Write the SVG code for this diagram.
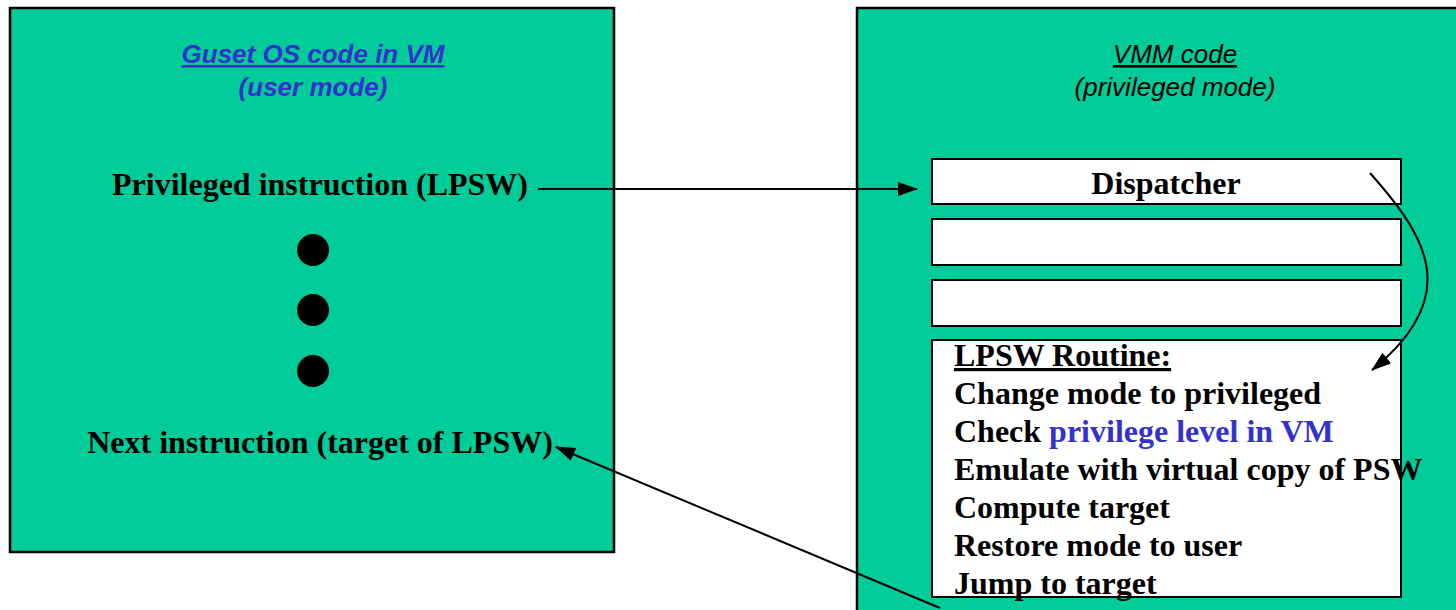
<svg xmlns="http://www.w3.org/2000/svg" width="1456" height="610" viewBox="0 0 1456 610">
  <style>
    .panel { fill: #00CC99; stroke: #000; stroke-width: 2.5; }
    .slot { fill: #fff; stroke: #000; stroke-width: 2; }
    .hdr { font-family: "Liberation Sans", Arial, sans-serif; font-style: italic; font-size: 26px; text-anchor: middle; }
    .body { font-family: "Liberation Serif", "Times New Roman", serif; font-weight: bold; font-size: 32px; fill: #000; }
    .blue { fill: #3333CC; }
    .wire { fill: none; stroke: #000; stroke-width: 2; }
  </style>
  <defs>
    <marker id="arrowL" markerWidth="20" markerHeight="14" refX="19" refY="7" orient="auto" markerUnits="userSpaceOnUse">
      <path d="M0,0 L20,7 L0,14 z" fill="#000"/>
    </marker>
  </defs>

  <rect width="1456" height="610" fill="#fff"/>

  <!-- Guest OS panel -->
  <g id="guest">
    <rect class="panel" x="10" y="8" width="604" height="544"/>
    <text class="hdr blue" x="313" y="63" font-weight="bold" text-decoration="underline">Guset OS code in VM</text>
    <text class="hdr blue" x="313" y="96" font-weight="bold">(user mode)</text>
    <text class="body" x="320" y="195" text-anchor="middle">Privileged instruction (LPSW)</text>
    <circle cx="313" cy="250" r="16" fill="#000"/>
    <circle cx="313" cy="310" r="16" fill="#000"/>
    <circle cx="313" cy="371" r="16" fill="#000"/>
    <text class="body" x="320" y="453" text-anchor="middle">Next instruction (target of LPSW)</text>
  </g>

  <!-- VMM panel -->
  <g id="vmm">
    <rect class="panel" x="857" y="8" width="620" height="620"/>
    <text class="hdr" x="1175" y="63" text-decoration="underline">VMM code</text>
    <text class="hdr" x="1175" y="96">(privileged mode)</text>
  </g>

  <g id="dispatcher">
    <rect class="slot" x="932" y="159" width="469" height="45"/>
    <text class="body" x="1166" y="194" text-anchor="middle">Dispatcher</text>
  </g>
  <g id="slot2">
    <rect class="slot" x="932" y="219" width="469" height="46"/>
  </g>
  <g id="slot3">
    <rect class="slot" x="932" y="280" width="469" height="46"/>
  </g>

  <g id="routine">
    <rect class="slot" x="932" y="340" width="469" height="257"/>
    <text class="body" x="954" y="366" text-decoration="underline">LPSW Routine:</text>
    <text class="body" x="954" y="404">Change mode to privileged</text>
    <text class="body" x="954" y="442">Check <tspan class="blue">privilege level in VM</tspan></text>
    <text class="body" x="954" y="480">Emulate with virtual copy of PSW</text>
    <text class="body" x="954" y="518">Compute target</text>
    <text class="body" x="954" y="556">Restore mode to user</text>
    <text class="body" x="954" y="594">Jump to target</text>
  </g>

  <!-- connectors -->
  <g id="connectors">
    <line class="wire" x1="538" y1="189" x2="917" y2="189" marker-end="url(#arrowL)"/>
    <path class="wire" d="M1370,173 C1425,235 1465,295 1372,370" marker-end="url(#arrowL)"/>
    <line class="wire" x1="940" y1="608" x2="556" y2="447" marker-end="url(#arrowL)"/>
  </g>
</svg>
